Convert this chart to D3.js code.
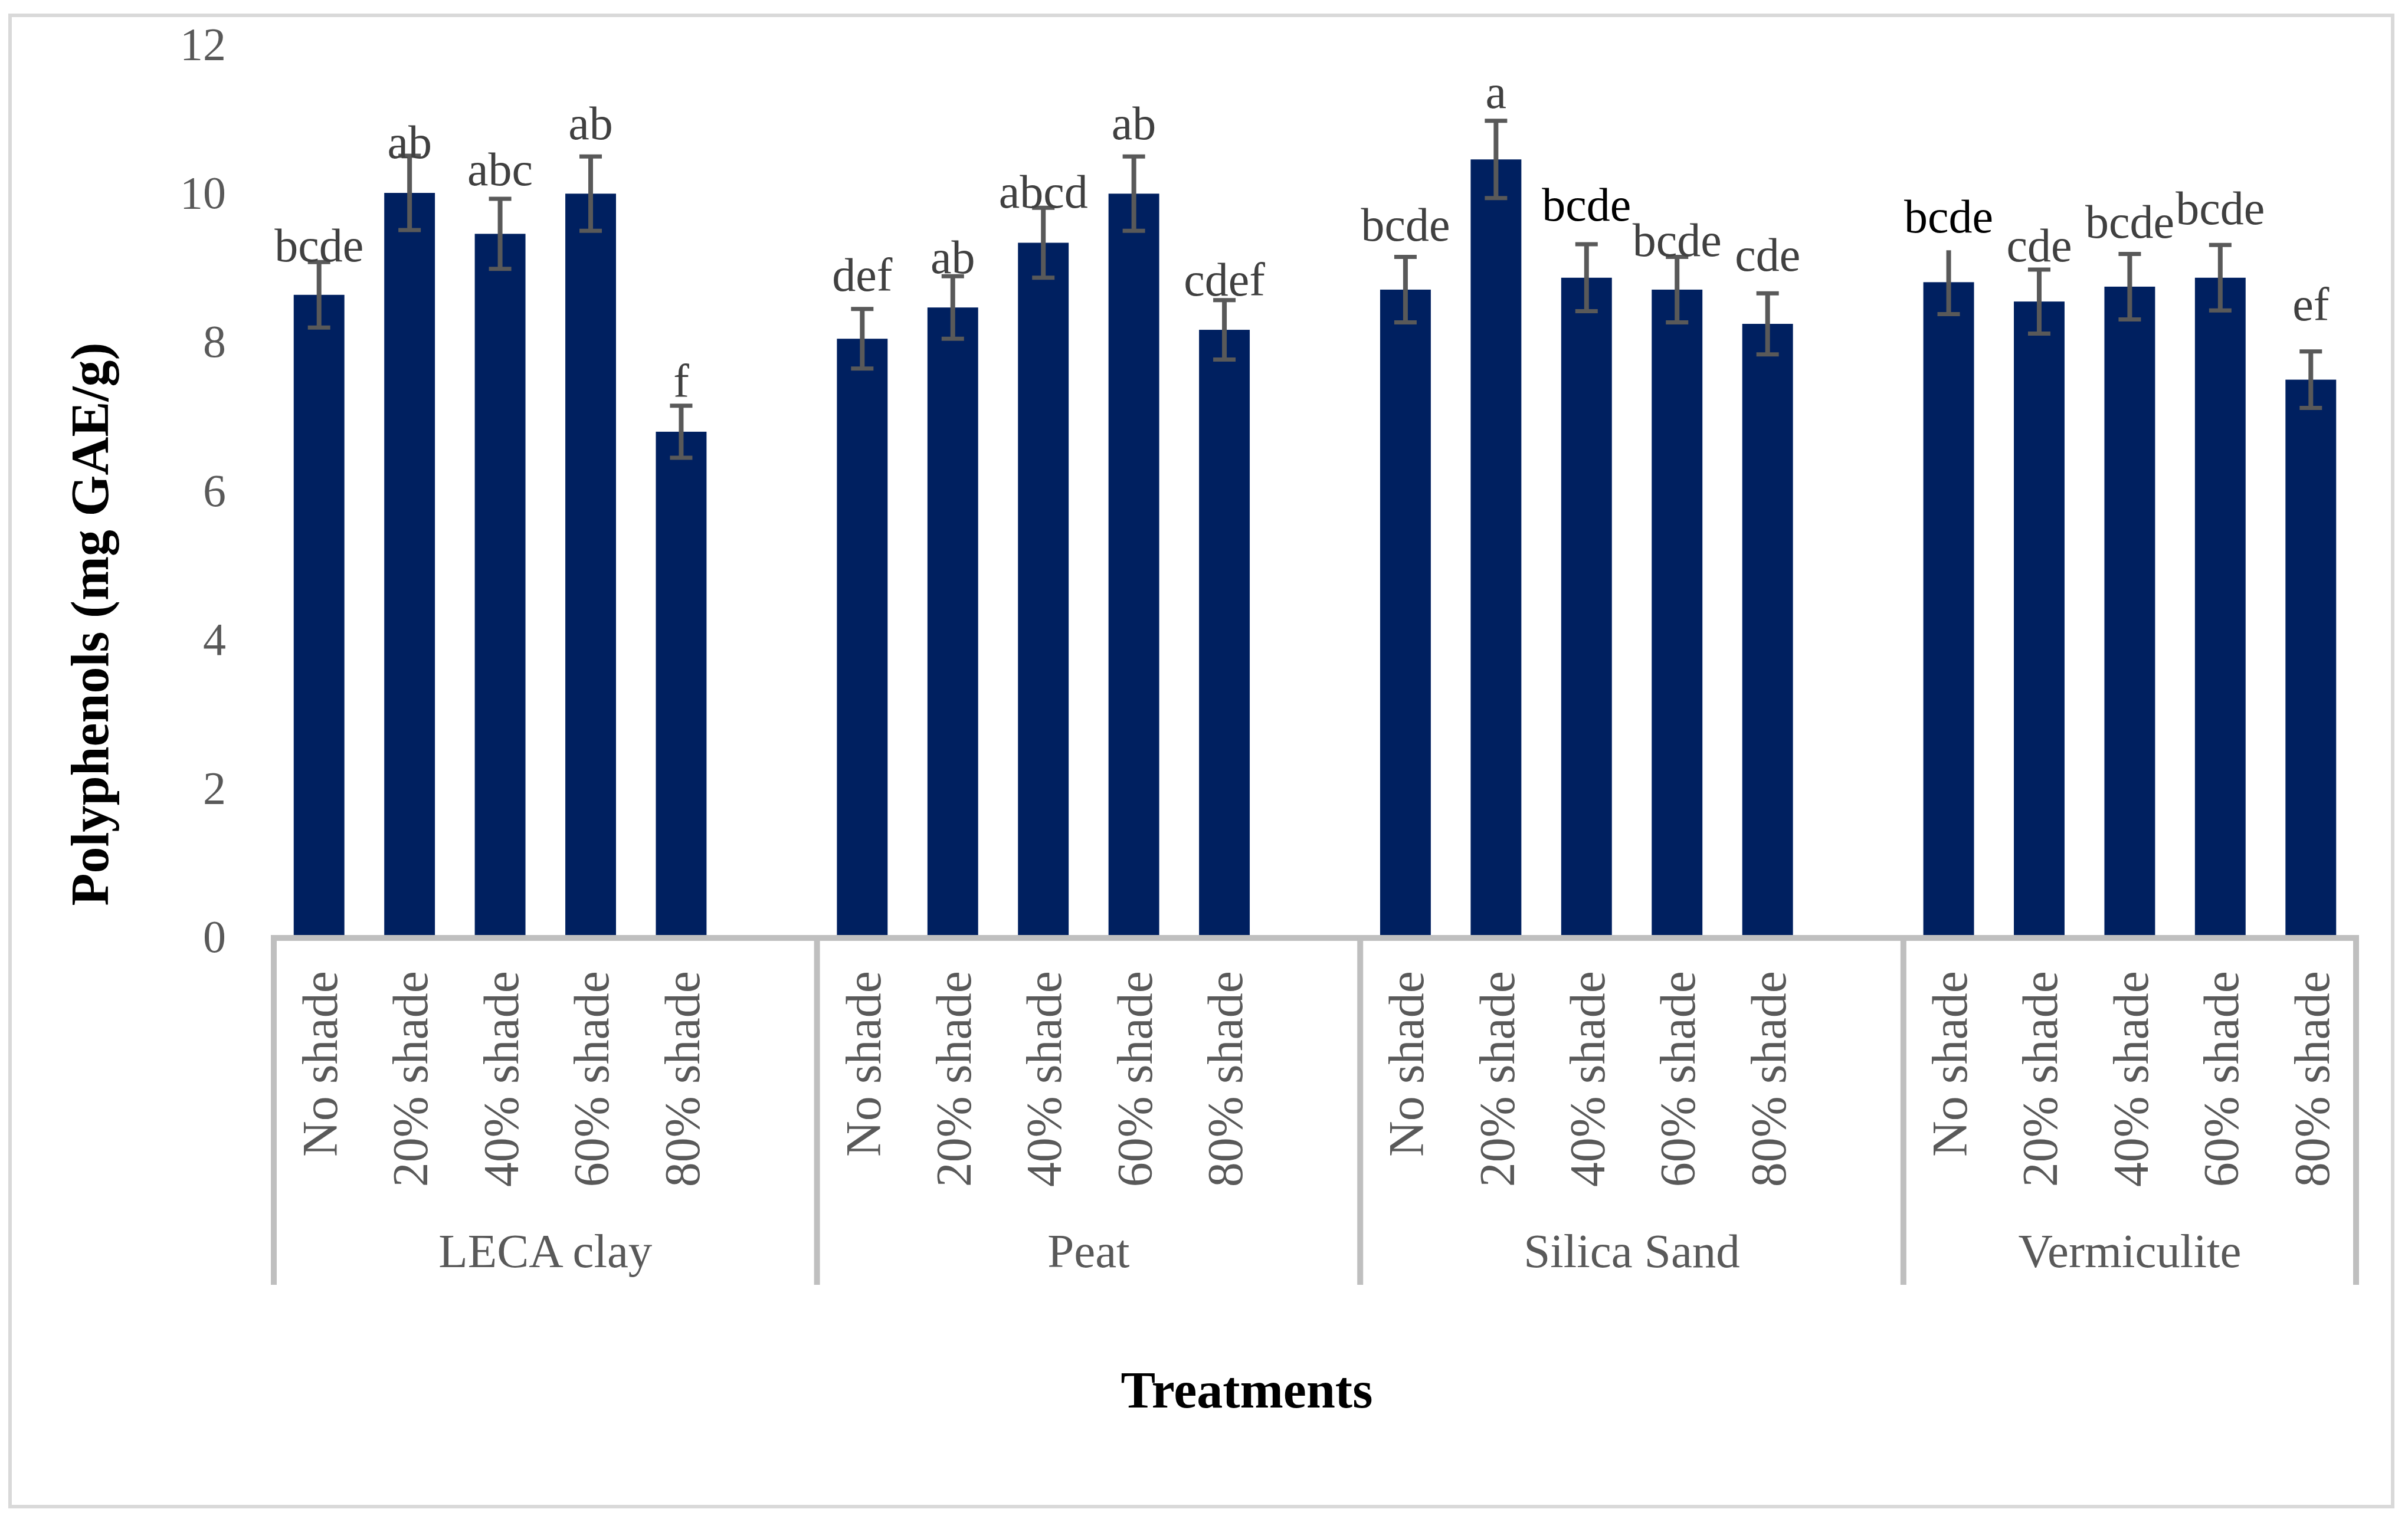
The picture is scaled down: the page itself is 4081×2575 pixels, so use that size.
<!DOCTYPE html>
<html>
<head>
<meta charset="utf-8">
<script src="https://cdn.jsdelivr.net/npm/d3@7"></script>
<style>
  html, body { margin: 0; padding: 0; background: #fff; }
  svg text { font-family: "Palatino Linotype", "Book Antiqua", Palatino, "Liberation Serif", serif; }
</style>
</head>
<body>
<div id="chart"></div>
<script>
const groups = ["LECA clay", "Peat", "Silica Sand", "Vermiculite"];
const treatments = ["No shade", "20% shade", "40% shade", "60% shade", "80% shade"];

// mean polyphenols (mg GAE/g), one row per substrate
const means = [
  [8.62, 9.99, 9.44, 9.98, 6.78],
  [8.03, 8.45, 9.32, 9.98, 8.15],
  [8.69, 10.44, 8.85, 8.69, 8.23],
  [8.79, 8.53, 8.73, 8.85, 7.48],
];
const errors = [
  [0.44, 0.50, 0.47, 0.50, 0.35],
  [0.40, 0.42, 0.47, 0.50, 0.40],
  [0.44, 0.52, 0.45, 0.44, 0.41],
  [0.43, 0.43, 0.44, 0.44, 0.38],
];
const letters = [
  ["bcde", "ab", "abc", "ab", "f"],
  ["def", "ab", "abcd", "ab", "cdef"],
  ["bcde", "a", "bcde", "bcde", "cde"],
  ["bcde", "cde", "bcde", "bcde", "ef"],
];
// height (same units as the y axis) where each letter label sits
const letterAt = [
  [9.07, 10.46, 10.09, 10.71, 7.25],
  [8.67, 8.91, 9.79, 10.71, 8.61],
  [9.35, 11.13, 9.62, 9.14, 8.94],
  [9.46, 9.07, 9.39, 9.57, 8.28],
];
const yTicks = [0, 2, 4, 6, 8, 10, 12];

class ShadeBarChart {
  constructor(el) {
    this.el = el;
    this.init();
  }

  init() {
    this.setup();
    this.wrangle();
    this.scaffold();
    this.render();
  }

  setup() {
    this.width = 4081;
    this.height = 2575;
    this.plotLeft = 464;
    this.plotRight = 3993;
    this.plotTop = 73.5;
    this.plotBottom = 1587;
    this.barColor = "#002060";
    this.errColor = "#595959";
    this.axisColor = "#BFBFBF";
    this.blackLetters = new Set(["Silica Sand|40% shade", "Vermiculite|No shade"]);
    this.noTopCap = new Set(["Vermiculite|No shade"]);
  }

  wrangle() {
    this.slots = [];
    this.bars = [];
    groups.forEach((g, gi) => {
      treatments.forEach((t, ti) => {
        const key = `${g}|${t}`;
        this.slots.push(key);
        this.bars.push({
          key,
          group: g,
          treatment: t,
          value: means[gi][ti],
          err: errors[gi][ti],
          letter: letters[gi][ti],
          letterAt: letterAt[gi][ti],
        });
      });
      if (gi < groups.length - 1) this.slots.push(`${g}|`);
    });

    this.x = d3
      .scaleBand()
      .domain(this.slots)
      .range([this.plotLeft, this.plotRight])
      .paddingInner(0.44)
      .paddingOuter(0.22);
    this.y = d3.scaleLinear().domain([0, 12]).range([this.plotBottom, this.plotTop]);
  }

  scaffold() {
    this.svg = d3
      .select(this.el)
      .append("svg")
      .attr("width", this.width)
      .attr("height", this.height)
      .attr("viewBox", [0, 0, this.width, this.height]);

    this.svg
      .append("rect")
      .attr("x", 17)
      .attr("y", 26)
      .attr("width", 4038)
      .attr("height", 2528)
      .attr("fill", "#fff")
      .attr("stroke", "#D9D9D9")
      .attr("stroke-width", 6);
  }

  slotLeft(key) {
    return this.x(key) - (this.x.step() - this.x.bandwidth()) / 2;
  }

  render() {
    const x = this.x;
    const y = this.y;
    const bw = x.bandwidth();

    // y tick labels
    this.svg
      .append("g")
      .selectAll("text")
      .data(yTicks)
      .join("text")
      .attr("x", 383)
      .attr("y", (d) => y(d))
      .attr("dy", "0.35em")
      .attr("text-anchor", "end")
      .attr("font-size", 78)
      .attr("fill", "#595959")
      .text((d) => d);

    // bars
    this.svg
      .append("g")
      .selectAll("rect")
      .data(this.bars)
      .join("rect")
      .attr("x", (d) => x(d.key))
      .attr("y", (d) => y(d.value))
      .attr("width", bw)
      .attr("height", (d) => y(0) - y(d.value))
      .attr("fill", this.barColor);

    // error bars
    const gErr = this.svg.append("g").attr("stroke", this.errColor);
    const cx = (d) => x(d.key) + bw / 2;
    gErr
      .selectAll(".stem")
      .data(this.bars)
      .join("line")
      .attr("class", "stem")
      .attr("x1", cx)
      .attr("x2", cx)
      .attr("y1", (d) => y(d.value + d.err))
      .attr("y2", (d) => y(d.value - d.err))
      .attr("stroke-width", 8);
    const caps = [];
    this.bars.forEach((d) => {
      if (!this.noTopCap.has(d.key)) caps.push({ d, v: d.value + d.err });
      caps.push({ d, v: d.value - d.err });
    });
    gErr
      .selectAll(".cap")
      .data(caps)
      .join("line")
      .attr("class", "cap")
      .attr("x1", (c) => cx(c.d) - 19)
      .attr("x2", (c) => cx(c.d) + 19)
      .attr("y1", (c) => y(c.v))
      .attr("y2", (c) => y(c.v))
      .attr("stroke-width", 7);

    // significance letters
    this.svg
      .append("g")
      .selectAll("text")
      .data(this.bars)
      .join("text")
      .attr("x", cx)
      .attr("y", (d) => y(d.letterAt))
      .attr("text-anchor", "middle")
      .attr("font-size", 80)
      .attr("fill", (d) => (this.blackLetters.has(d.key) ? "#000" : "#404040"))
      .text((d) => d.letter);

    // category axis
    const axisY = y(0) + 3;
    const gAxis = this.svg.append("g");
    gAxis
      .append("line")
      .attr("x1", this.plotLeft - 5)
      .attr("x2", this.plotRight + 5)
      .attr("y1", axisY)
      .attr("y2", axisY)
      .attr("stroke", this.axisColor)
      .attr("stroke-width", 10);

    const bounds = groups.map((g) => this.slotLeft(`${g}|${treatments[0]}`));
    bounds.push(this.plotRight);
    gAxis
      .selectAll(".divider")
      .data(bounds)
      .join("line")
      .attr("class", "divider")
      .attr("x1", (d) => d)
      .attr("x2", (d) => d)
      .attr("y1", axisY)
      .attr("y2", 2178)
      .attr("stroke", this.axisColor)
      .attr("stroke-width", 10);

    gAxis
      .selectAll(".cat")
      .data(this.bars)
      .join("text")
      .attr("class", "cat")
      .attr("transform", (d) => `translate(${cx(d)},1646) rotate(-90)`)
      .attr("dy", "0.36em")
      .attr("text-anchor", "end")
      .attr("font-size", 84)
      .attr("fill", "#595959")
      .text((d) => d.treatment);

    gAxis
      .selectAll(".grp")
      .data(groups)
      .join("text")
      .attr("class", "grp")
      .attr("x", (g, i) => (bounds[i] + bounds[i + 1]) / 2)
      .attr("y", 2148)
      .attr("text-anchor", "middle")
      .attr("font-size", 81)
      .attr("fill", "#595959")
      .text((g) => g);

    // axis titles
    this.svg
      .append("text")
      .attr("transform", "translate(183,1058) rotate(-90)")
      .attr("text-anchor", "middle")
      .attr("font-size", 90)
      .attr("font-weight", "bold")
      .attr("fill", "#000")
      .text("Polyphenols (mg GAE/g)");

    this.svg
      .append("text")
      .attr("x", 2113)
      .attr("y", 2386)
      .attr("text-anchor", "middle")
      .attr("font-size", 88)
      .attr("font-weight", "bold")
      .attr("fill", "#000")
      .text("Treatments");
  }
}

new ShadeBarChart(document.getElementById("chart"));
</script>
</body>
</html>
